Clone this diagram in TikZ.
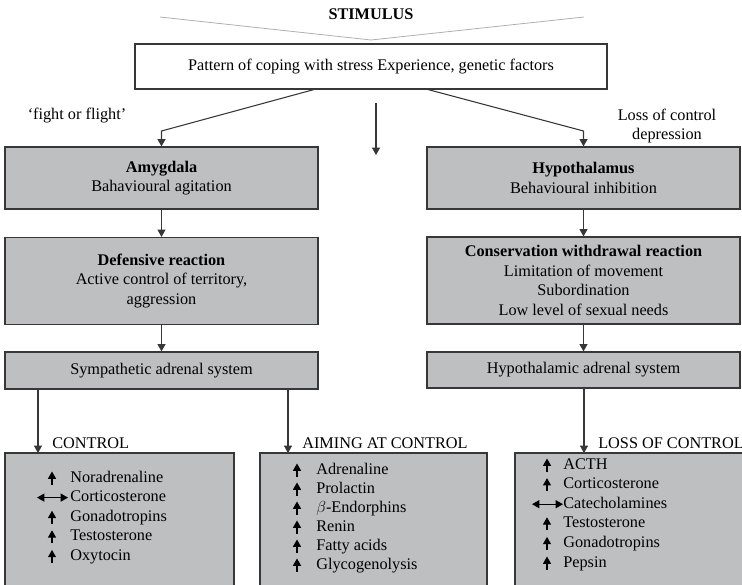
\documentclass[tikz,border=0pt]{standalone}
\usepackage{fontspec}
\setmainfont{Liberation Serif}
\usetikzlibrary{arrows.meta}
\definecolor{boxgray}{RGB}{190,191,193}
\definecolor{edgegray}{RGB}{55,55,55}
\definecolor{stimgray}{RGB}{175,175,175}
\begin{document}
\begin{tikzpicture}[x=0.75pt,y=-0.75pt,>={Triangle[width=6pt,length=5.5pt]},
    font=\fontsize{12.2}{14.6}\selectfont,
    panel/.style={draw=edgegray,line width=0.9pt,fill=boxgray,inner sep=0pt,
      align=center,minimum width=234.75pt},
    link/.style={->,draw=edgegray,line width=0.8pt},
    risearrow/.style={-{Triangle[width=6pt,length=5.5pt]},line width=0.9pt},
    botharrow/.style={{Triangle[width=6pt,length=5.5pt]}-{Triangle[width=6pt,length=5.5pt]},line width=0.9pt},
    item/.style={anchor=west,inner sep=0pt,text height=8.5pt,text depth=2.5pt}]
  \useasboundingbox (0,0) rectangle (742,585);
  \clip (0,0) rectangle (742,585);
  \def\rowL{19.6}   % line pitch in the lists
  % stimulus wedge
  \node (stim) at (371,14) {\bfseries STIMULUS};
  \coordinate (wedgeL) at (160,17);
  \coordinate (wedgeM) at (371,40);
  \coordinate (wedgeR) at (584,17);
  \draw[stimgray,line width=0.6pt] (wedgeL) -- (wedgeM) -- (wedgeR);
  \node[draw=edgegray,line width=1pt,minimum width=354pt,minimum height=33.75pt,inner sep=0pt]
    (pattern) at (371,66.5) {Pattern of coping with stress Experience, genetic factors};
  % side labels
  \node (fight) at (77,116) {`fight or flight'};
  \node[align=center] (lossdep) at (667,126) {Loss of control\\depression};
  % left branch
  \node[panel,minimum height=46.5pt] (amy) at (161.5,178)
    {\textbf{Amygdala}\\Bahavioural agitation};
  \node[panel,minimum height=65.25pt] (defense) at (161.5,281)
    {\textbf{Defensive reaction}\\Active control of territory,\\aggression};
  \node[panel,minimum height=27.75pt] (sympa) at (161.5,370.5) {Sympathetic adrenal system};
  % right branch
  \node[panel,minimum height=46.5pt] (hypo) at (583.5,178)
    {\textbf{Hypothalamus}\\Behavioural inhibition};
  \node[panel,minimum height=65.25pt] (conserve) at (583.5,280.5)
    {\textbf{Conservation withdrawal reaction}\\Limitation of movement\\Subordination\\Low level of sexual needs};
  \node[panel,minimum height=27pt] (hpa) at (583.5,370) {Hypothalamic adrenal system};
  % outcome boxes (run off the page)
  \node[panel,minimum width=171.75pt,minimum height=102.75pt] (ctlbox) at (119.5,521.5) {};
  \node[panel,minimum width=170.25pt,minimum height=102.75pt] (aimbox) at (373.5,521.5) {};
  \node[panel,minimum width=176.25pt,minimum height=102.75pt] (lossbox) at (632.5,521.5) {};
  \node[anchor=west,inner sep=0pt] (ctlhead) at (52,443) {CONTROL};
  \node[anchor=west,inner sep=0pt] (aimhead) at (302,443) {AIMING AT CONTROL};
  \node[anchor=west,inner sep=0pt] (losshead) at (598,443) {LOSS OF CONTROL};
  % connectors
  \coordinate (outL) at (316,89);
  \coordinate (outR) at (426,89);
  \coordinate (bendL) at (161.5,131);
  \coordinate (bendR) at (583.5,131);
  \draw[link] (outL) -- (bendL) -- (amy.north);
  \draw[link] (outR) -- (bendR) -- (hypo.north);
  \coordinate (midtop) at (376,103);
  \coordinate (midend) at (376,155);
  \draw[link] (midtop) -- (midend);
  \draw[link] (amy) -- (defense);
  \draw[link] (defense) -- (sympa);
  \draw[link] (hypo) -- (conserve);
  \draw[link] (conserve) -- (hpa);
  \coordinate (ctlin) at (38,453);
  \coordinate (aimin) at (288,453);
  \coordinate (lossin) at (584,453);
  \draw[link] (sympa.south -| ctlin) -- (ctlin);
  \draw[link] (sympa.south -| aimin) -- (aimin);
  \draw[link] (hpa.south -| lossin) -- (lossin);
  % CONTROL list
  \foreach \name [count=\i] in {Noradrenaline,Corticosterone,Gonadotropins,Testosterone,Oxytocin}
    \node[item] (ctl\i) at (70,{478+\rowL*(\i-1)}) {\name};
  \foreach \i in {1,3,4,5}
    \draw[risearrow] (52,{478+\rowL*(\i-1)+6.5}) -- (52,{478+\rowL*(\i-1)-6.5});
  \draw[botharrow] (37,497.6) -- (68,497.6);
  % AIMING AT CONTROL list
  \foreach \name [count=\i] in {Adrenaline,Prolactin,$\beta$-Endorphins,Renin,Fatty acids,Glycogenolysis}
    \node[item] (aim\i) at (316,{470+19*(\i-1)}) {\name};
  \foreach \i in {1,...,6}
    \draw[risearrow] (297,{470+19*(\i-1)+6.5}) -- (297,{470+19*(\i-1)-6.5});
  % LOSS OF CONTROL list
  \foreach \name [count=\i] in {ACTH,Corticosterone,Catecholamines,Testosterone,Gonadotropins,Pepsin}
    \node[item] (loss\i) at (563,{465+\rowL*(\i-1)}) {\name};
  \foreach \i in {1,2,4,5,6}
    \draw[risearrow] (547,{465+\rowL*(\i-1)+6.5}) -- (547,{465+\rowL*(\i-1)-6.5});
  \draw[botharrow] (532,504.2) -- (563,504.2);
\end{tikzpicture}
\end{document}
